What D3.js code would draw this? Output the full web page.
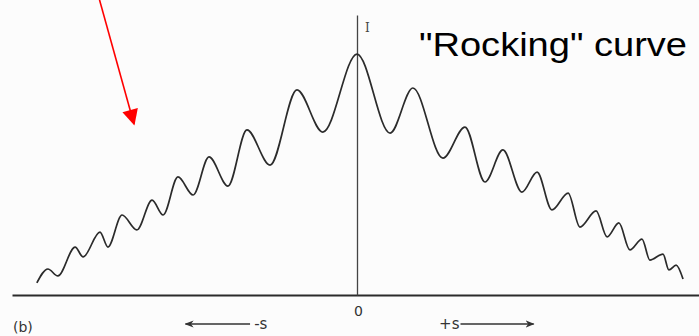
<!DOCTYPE html>
<html><head><meta charset="utf-8">
<script src="https://cdn.jsdelivr.net/npm/d3@7"></script>
<style>html,body{margin:0;padding:0;background:#fcfcfc;overflow:hidden}</style>
</head><body>
<svg id="c" width="699" height="336"></svg>
<script>
// Deviation parameter s (arbitrary units, 0 = Bragg position) and intensity I (relative)
const sValues = [-0.928,-0.896,-0.867,-0.817,-0.794,-0.745,-0.722,-0.681,-0.638,-0.594,-0.562,-0.519,-0.475,-0.429,-0.374,-0.319,-0.252,-0.174,-0.099,
  0,
  0.096,0.162,0.249,0.313,0.371,0.423,0.478,0.522,0.565,0.612,0.646,0.693,0.725,0.759,0.791,0.826,0.849,0.887,0.904,0.925,0.945];
const iValues = [0.050,0.108,0.079,0.199,0.158,0.261,0.199,0.332,0.270,0.394,0.332,0.490,0.415,0.573,0.452,0.685,0.539,0.851,0.676,
  1.0,
  0.672,0.859,0.568,0.697,0.469,0.602,0.427,0.510,0.353,0.423,0.282,0.349,0.241,0.299,0.187,0.232,0.145,0.170,0.104,0.124,0.066];
const titleText = '"Rocking" curve';
const axisLabelI = 'I';
const zeroTick = [0];
const figLabel = '(b)';
const minusLabel = '-s';
const plusLabel = '+s';

const svg = d3.select('#c');
const x = d3.scaleLinear().domain([-1, 1]).range([12, 702]);
const y = d3.scaleLinear().domain([0, 1.162]).range([295, 15]);

const ink = '#2b2b2b';

// x axis
const xAxis = d3.axisBottom(x).tickValues(zeroTick).tickSize(0).tickSizeOuter(0).tickPadding(11).tickFormat(d3.format('d'));
const gx = svg.append('g').attr('transform', `translate(0,${y(0)})`).call(xAxis);
gx.select('.domain').attr('stroke', ink).attr('stroke-width', 1.8);
gx.selectAll('text').attr('font-family', 'DejaVu Sans, sans-serif').attr('font-size', 14).attr('fill', '#333').attr('dx', 1);

// y axis
const yAxis = d3.axisRight(y).tickValues([]).tickSize(0).tickSizeOuter(0);
const gy = svg.append('g').attr('transform', `translate(${x(0)},0)`).call(yAxis);
gy.select('.domain').attr('stroke', '#444').attr('stroke-width', 1.3);

svg.append('text').attr('x', x(0) + 8).attr('y', 32).text(axisLabelI)
  .attr('font-family', 'DejaVu Serif, serif').attr('font-size', 12).attr('fill', '#444');

// curve
const data = sValues.map((s, i) => ({s, I: iValues[i]}));
const line = d3.line().x(d => x(d.s)).y(d => y(d.I)).curve(d3.curveMonotoneX);
svg.append('path').datum(data).attr('d', line)
  .attr('fill', 'none').attr('stroke', ink).attr('stroke-width', 1.7).attr('stroke-linejoin', 'round');

// arrow markers
const defs = svg.append('defs');
defs.append('marker').attr('id', 'ah').attr('viewBox', '0 0 10 10').attr('refX', 9).attr('refY', 5)
  .attr('markerWidth', 9).attr('markerHeight', 9).attr('markerUnits', 'userSpaceOnUse').attr('orient', 'auto')
  .append('path').attr('d', 'M0,1 L10,5 L0,9 L3,5 Z').attr('fill', '#333');

const ay = 324;
svg.append('line').attr('x1', x(-0.31)).attr('x2', x(-0.497)).attr('y1', ay).attr('y2', ay)
  .attr('stroke', '#333').attr('stroke-width', 1.5).attr('marker-end', 'url(#ah)');
svg.append('text').attr('x', x(-0.298)).attr('y', ay + 5).text(minusLabel)
  .attr('font-family', 'DejaVu Sans, sans-serif').attr('font-size', 15).attr('fill', '#333');
svg.append('text').attr('x', x(0.238)).attr('y', ay + 5).text(plusLabel)
  .attr('font-family', 'DejaVu Sans, sans-serif').attr('font-size', 15).attr('fill', '#333');
svg.append('line').attr('x1', x(0.3)).attr('x2', x(0.512)).attr('y1', ay).attr('y2', ay)
  .attr('stroke', '#333').attr('stroke-width', 1.5).attr('marker-end', 'url(#ah)');

svg.append('text').attr('x', 13).attr('y', 332).text(figLabel)
  .attr('font-family', 'DejaVu Sans, sans-serif').attr('font-size', 14).attr('fill', '#333');

// title
svg.append('text').attr('x', 419).attr('y', 56).text(titleText)
  .attr('font-family', 'Liberation Sans, Arial, sans-serif').attr('font-size', 34).attr('fill', '#000')
  .attr('textLength', 268).attr('lengthAdjust', 'spacingAndGlyphs');

// red annotation arrow
defs.append('marker').attr('id', 'rh').attr('viewBox', '0 0 10 10').attr('refX', 9).attr('refY', 5)
  .attr('markerWidth', 17).attr('markerHeight', 16).attr('markerUnits', 'userSpaceOnUse').attr('orient', 'auto')
  .append('path').attr('d', 'M0,0 L10,5 L0,10 Z').attr('fill', '#f00');
svg.append('line').attr('x1', 99).attr('y1', -2).attr('x2', 134).attr('y2', 124)
  .attr('stroke', '#f00').attr('stroke-width', 1.6).attr('marker-end', 'url(#rh)');
</script>
</body></html>
